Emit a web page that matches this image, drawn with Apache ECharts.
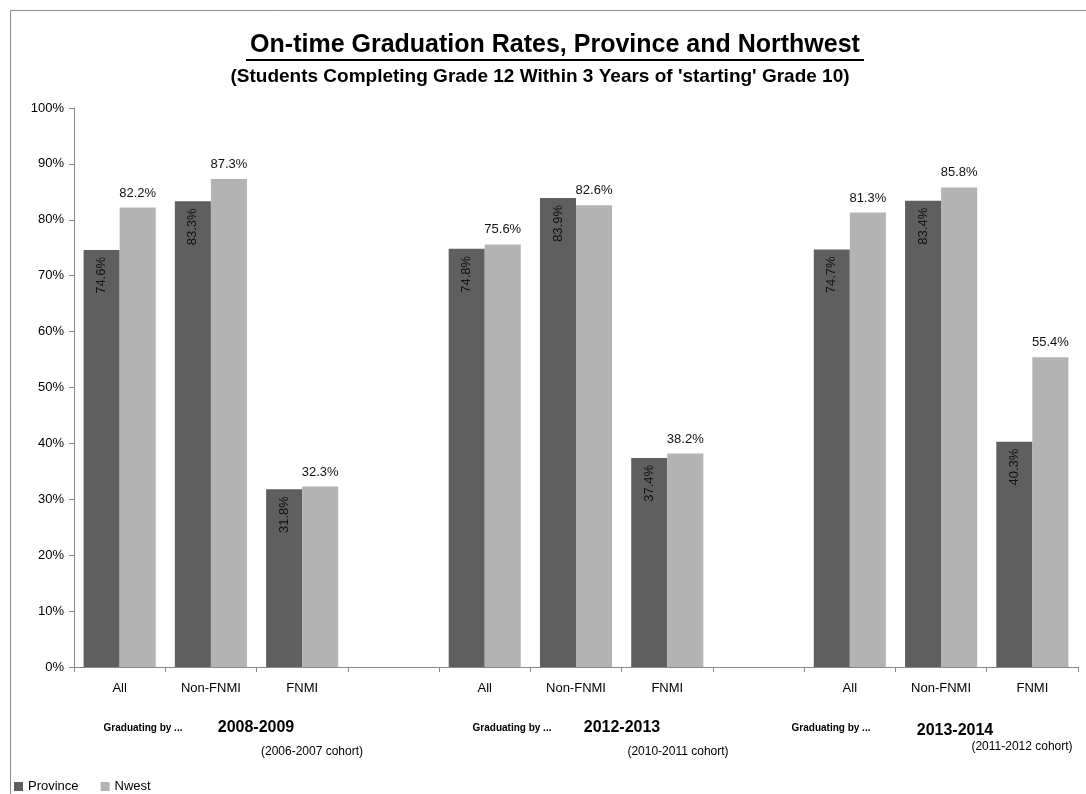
<!DOCTYPE html>
<html>
<head>
<meta charset="utf-8">
<script src="https://cdn.jsdelivr.net/npm/echarts@6/dist/echarts.min.js"></script>
<style>
  html, body { margin: 0; padding: 0; background: #fff; }
  #chart { width: 1086px; height: 794px; }
</style>
</head>
<body>
<div id="chart"></div>
<script>
// Categories: three cohorts of three groups, separated by an empty slot
const categories = ['All', 'Non-FNMI', 'FNMI', '', 'All', 'Non-FNMI', 'FNMI', '', 'All', 'Non-FNMI', 'FNMI'];
const province = [74.6, 83.3, 31.8, null, 74.8, 83.9, 37.4, null, 74.7, 83.4, 40.3];
const nwest = [82.2, 87.3, 32.3, null, 75.6, 82.6, 38.2, null, 81.3, 85.8, 55.4];
const yTicks = [0, 10, 20, 30, 40, 50, 60, 70, 80, 90, 100];
const gradYears = ['2008-2009', '2012-2013', '2013-2014'];
const cohorts = ['(2006-2007 cohort)', '(2010-2011 cohort)', '(2011-2012 cohort)'];

const FONT = '"Liberation Sans", Arial, sans-serif';
const chart = echarts.init(document.getElementById('chart'), null, { renderer: 'canvas' });

const fmt = v => v.toFixed(1) + '%';

// Footer annotations under each cohort
const footer = [];
const gradPos = [[143, 256, 312], [512, 622, 678], [831, 955, 1022]];
const yearY = [728, 728, 731];
const cohortY = [752, 752, 747];
gradYears.forEach((yr, i) => {
  footer.push({ type: 'text', x: gradPos[i][0], y: 728, style: { text: 'Graduating by ...', font: 'bold 10px ' + FONT, fill: '#000', align: 'center', verticalAlign: 'middle' } });
  footer.push({ type: 'text', x: gradPos[i][1], y: yearY[i], style: { text: yr, font: 'bold 16px ' + FONT, fill: '#000', align: 'center', verticalAlign: 'middle' } });
  footer.push({ type: 'text', x: gradPos[i][2], y: cohortY[i], style: { text: cohorts[i], font: '12px ' + FONT, fill: '#000', align: 'center', verticalAlign: 'middle' } });
});

const option = {
  backgroundColor: '#fff',
  animation: false,
  textStyle: { fontFamily: FONT },
  grid: { left: 74, right: 8, top: 108, bottom: 127, containLabel: false },
  legend: {
    left: 9, top: 775, itemWidth: 9, itemHeight: 9, itemGap: 22,
    icon: 'rect',
    textStyle: { fontSize: 13, color: '#000', fontFamily: FONT },
    data: ['Province', 'Nwest']
  },
  xAxis: {
    type: 'category',
    data: categories,
    axisLine: { lineStyle: { color: '#888' } },
    axisTick: { show: true, length: 5, lineStyle: { color: '#888' }, interval: 0 },
    axisLabel: { fontSize: 13, color: '#000', margin: 15, interval: 0 },
    splitLine: { show: false }
  },
  yAxis: {
    type: 'value',
    min: 0, max: 100, interval: 10,
    axisLine: { show: true, lineStyle: { color: '#888' } },
    axisTick: { show: true, length: 5, lineStyle: { color: '#888' } },
    axisLabel: { formatter: '{value}%', fontSize: 13, color: '#000', margin: 10 },
    splitLine: { show: false }
  },
  series: [
    {
      name: 'Province', type: 'bar', data: province,
      barGap: '0%', barCategoryGap: '21%',
      itemStyle: { color: '#5f5f5f' },
      label: {
        show: true, position: 'insideTop', rotate: 90, align: 'right', verticalAlign: 'middle',
        distance: 7, fontSize: 13, color: '#111',
        formatter: p => fmt(p.value)
      }
    },
    {
      name: 'Nwest', type: 'bar', data: nwest,
      itemStyle: { color: '#b3b3b3' },
      label: {
        show: true, position: 'top', distance: 8, fontSize: 13, color: '#111',
        formatter: p => fmt(p.value)
      }
    }
  ],
  graphic: [
    { type: 'rect', shape: { x: 10.5, y: 10.5, width: 1100, height: 820 }, style: { fill: 'none', stroke: '#8a8a8a', lineWidth: 1 }, silent: true },
    { type: 'text', x: 555, y: 45, style: { text: 'On-time Graduation Rates, Province and Northwest', font: 'bold 25px ' + FONT, fill: '#000', align: 'center', verticalAlign: 'middle' } },
    { type: 'line', shape: { x1: 246, y1: 60, x2: 864, y2: 60 }, style: { stroke: '#000', lineWidth: 2 } },
    { type: 'text', x: 540, y: 77, style: { text: "(Students Completing Grade 12 Within 3 Years of 'starting' Grade 10)", font: 'bold 19px ' + FONT, fill: '#000', align: 'center', verticalAlign: 'middle' } }
  ].concat(footer)
};

chart.setOption(option);
</script>
</body>
</html>
